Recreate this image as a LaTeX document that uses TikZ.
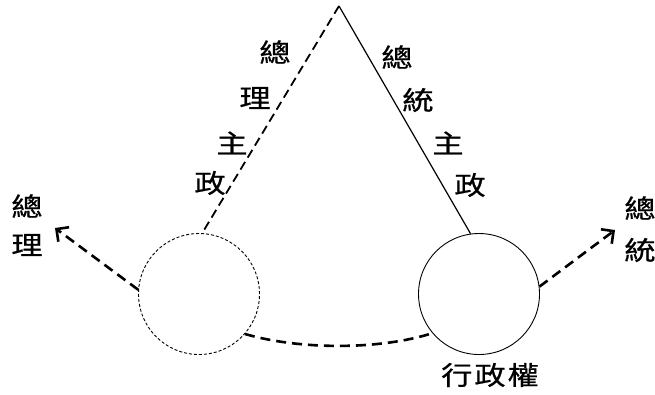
\documentclass[tikz,border=0pt]{standalone}
\usepackage{fontspec}
\newfontfamily\cjk[FakeBold=0.6]{Noto Sans CJK TC}
\usetikzlibrary{arrows.meta}
\begin{document}
\begin{tikzpicture}[x=1pt,y=-1pt,
  lbl/.style={inner sep=0pt,font=\cjk\fontsize{26}{28}\selectfont},
  ring/.style={circle,minimum size=121pt,inner sep=0pt,line width=0.9pt},
  heavydash/.style={line width=2.6pt,dash pattern=on 10pt off 6pt},
  sidedash/.style={line width=1.8pt,dash pattern=on 9pt off 5pt},
  arr/.style={heavydash,-{Straight Barb[length=9pt,width=18pt,line width=2.6pt]}}]
\useasboundingbox (0,0) rectangle (655,394);
\node[ring,draw,dash pattern=on 3pt off 2pt] (L) at (199,294) {};
\node[ring,draw] (R) at (479,294) {};
\coordinate (apex) at (339,6);
\coordinate (tl) at (55,228);
\coordinate (tr) at (615,230);
\draw[sidedash] (apex) -- (L.87);
\draw[line width=1.2pt] (apex) -- (R.98);
\draw[arr] (L.176) -- (tl);
\draw[arr] (R.7) -- (tr);
\draw[heavydash] (L.319) .. controls (300,350) and (380,350) .. (R.220);
\newcommand{\zh}[1]{\scalebox{1.2}[1]{#1}}
\node[lbl] (a1) at (275,52) {\zh{總}};
\node[lbl] (a2) at (255,98) {\zh{理}};
\node[lbl] (a3) at (232,143) {\zh{主}};
\node[lbl] (a4) at (210,183) {\zh{政}};
\node[lbl] (b1) at (397,57) {\zh{總}};
\node[lbl] (b2) at (418,100) {\zh{統}};
\node[lbl] (b3) at (448,143) {\zh{主}};
\node[lbl] (b4) at (470,185) {\zh{政}};
\node[lbl] (c1) at (27,206) {\zh{總}};
\node[lbl] (c2) at (27,245) {\zh{理}};
\node[lbl] (d1) at (640,208) {\zh{總}};
\node[lbl] (d2) at (640,250) {\zh{統}};
\node[lbl] (e) at (490,375) {\zh{行}\hspace{2pt}\zh{政}\hspace{2pt}\zh{權}};
\end{tikzpicture}
\end{document}
